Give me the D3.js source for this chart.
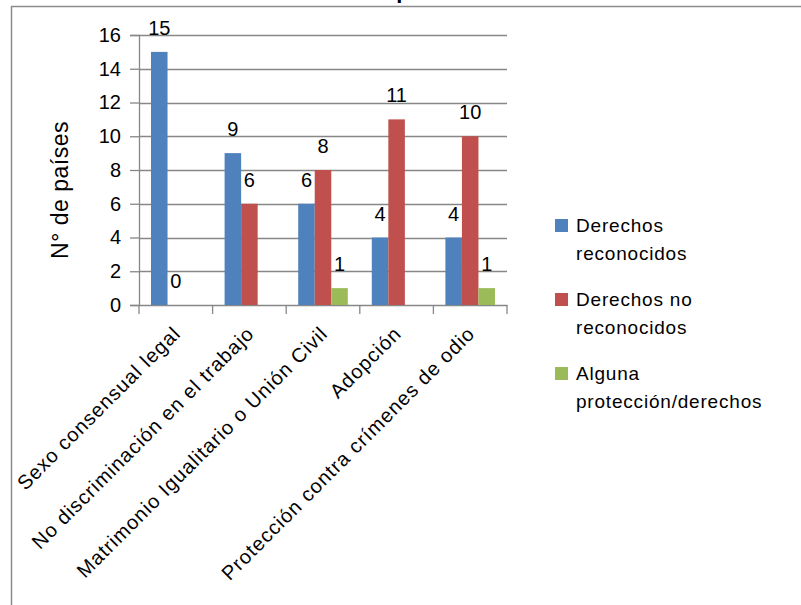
<!DOCTYPE html>
<html>
<head>
<meta charset="utf-8">
<script src="https://cdn.jsdelivr.net/npm/d3@7"></script>
<style>
  body { margin: 0; background: #fff; }
  svg { display: block; }
  text { font-family: "Liberation Sans", Arial, sans-serif; fill: #000; }
</style>
</head>
<body>
<div id="chart"></div>
<script>
var categories = ["Sexo consensual legal", "No discriminación en el trabajo", "Matrimonio Igualitario o Unión Civil", "Adopción", "Protección contra crímenes de odio"];
var seriesNames = ["Derechos reconocidos", "Derechos no reconocidos", "Alguna protección/derechos"];
var legendLines = [["Derechos", "reconocidos"], ["Derechos no", "reconocidos"], ["Alguna", "protección/derechos"]];
var reconocidos = [15, 9, 6, 4, 4];
var noReconocidos = [0, 6, 8, 11, 10];
var alguna = [null, null, 1, null, 1];
var yTicks = [0, 2, 4, 6, 8, 10, 12, 14, 16];
var colors = ["#4f81bd", "#c0504d", "#9bbb59"];

function init() {
    var width = 801, height = 605;
    var plot = { left: 139, right: 507, top: 35, bottom: 305 };

    var svg = d3.select("#chart").append("svg")
        .attr("width", width)
        .attr("height", height);

    // frame of the chart area (cut on right and bottom)
    svg.append("path")
        .attr("d", "M11.5," + height + "V6.5H" + width)
        .attr("fill", "none")
        .attr("stroke", "#8c8c8c")
        .attr("stroke-width", 1.5);

    // title, mostly above the visible area
    svg.append("text")
        .attr("x", 403)
        .attr("y", -2)
        .attr("text-anchor", "middle")
        .style("font-size", "22px")
        .style("font-weight", "bold")
        .text("p");

    var series = [reconocidos, noReconocidos, alguna];
    var data = categories.map(function (c, i) {
        return { cat: c, values: series.map(function (s, j) { return { key: j, value: s[i] }; }) };
    });

    var y = d3.scaleLinear().domain([0, 16]).range([plot.bottom, plot.top]);
    var x0 = d3.scaleBand().domain(categories).range([plot.left, plot.right]);
    var x1 = d3.scaleBand().domain([0, 1, 2]).range([12, x0.bandwidth() - 12]);

    // gridlines
    svg.append("g")
        .selectAll("line")
        .data(yTicks.filter(function (d) { return d > 0; }))
        .enter().append("line")
        .attr("x1", plot.left).attr("x2", plot.right)
        .attr("y1", function (d) { return Math.round(y(d)) + 0.5; })
        .attr("y2", function (d) { return Math.round(y(d)) + 0.5; })
        .attr("stroke", "#878787")
        .attr("stroke-width", 1.3);

    // y axis
    var yAxis = svg.append("g")
        .attr("transform", "translate(" + plot.left + ",0)")
        .call(d3.axisLeft(y).tickValues(yTicks).tickSize(9).tickPadding(9));
    yAxis.select(".domain").attr("stroke", "#878787").attr("stroke-width", 1.3);
    yAxis.selectAll(".tick line").attr("stroke", "#878787").attr("stroke-width", 1.3);
    yAxis.selectAll(".tick text").style("font-size", "20px").attr("fill", "#000");

    // x axis
    var xAxis = svg.append("g")
        .attr("transform", "translate(0," + plot.bottom + ")")
        .call(d3.axisBottom(x0).tickSize(0).tickFormat(""));
    xAxis.select(".domain").attr("stroke", "#878787").attr("stroke-width", 1.3);
    xAxis.selectAll(".tick").remove();
    var bounds = categories.map(function (c) { return x0(c); }).concat([plot.right]);
    xAxis.selectAll("line.tk")
        .data(bounds)
        .enter().append("line")
        .attr("class", "tk")
        .attr("x1", function (d) { return d; }).attr("x2", function (d) { return d; })
        .attr("y1", 0).attr("y2", 9)
        .attr("stroke", "#878787").attr("stroke-width", 1.3);

    // category labels rotated
    svg.append("g")
        .selectAll("text")
        .data(categories)
        .enter().append("text")
        .attr("transform", function (d) {
            return "translate(" + (x0(d) + x0.bandwidth() / 2 + 1) + "," + (plot.bottom + 25) + ") rotate(-45)";
        })
        .attr("text-anchor", "end")
        .attr("dy", "0.35em")
        .style("font-size", "20px")
        .style("letter-spacing", "1px")
        .attr("fill", "#111")
        .text(function (d) { return d; });

    // bars
    var groups = svg.append("g")
        .selectAll("g")
        .data(data)
        .enter().append("g")
        .attr("transform", function (d) { return "translate(" + x0(d.cat) + ",0)"; });

    groups.selectAll("rect")
        .data(function (d) { return d.values.filter(function (v) { return v.value !== null; }); })
        .enter().append("rect")
        .attr("x", function (d) { return x1(d.key); })
        .attr("width", x1.bandwidth())
        .attr("y", function (d) { return y(d.value); })
        .attr("height", function (d) { return y(0) - y(d.value); })
        .attr("fill", function (d) { return colors[d.key]; });

    groups.selectAll("text")
        .data(function (d) { return d.values.filter(function (v) { return v.value !== null; }); })
        .enter().append("text")
        .attr("x", function (d) { return x1(d.key) + x1.bandwidth() / 2; })
        .attr("y", function (d) { return y(d.value) - 17; })
        .attr("text-anchor", "middle")
        .style("font-size", "20px")
        .text(function (d) { return d.value; });

    // y axis title
    svg.append("text")
        .attr("transform", "translate(68,190) rotate(-90)")
        .attr("text-anchor", "middle")
        .style("font-size", "23px")
        .style("letter-spacing", "0.5px")
        .text("N° de países");

    // legend
    var legend = svg.append("g")
        .selectAll("g")
        .data(seriesNames)
        .enter().append("g")
        .attr("transform", function (d, i) { return "translate(555," + (232 + i * 74) + ")"; });

    legend.append("rect")
        .attr("x", 0).attr("y", -13)
        .attr("width", 13).attr("height", 13)
        .attr("fill", function (d, i) { return colors[i]; });

    legend.append("text")
        .attr("x", 21)
        .style("font-size", "19px")
        .style("letter-spacing", "0.8px")
        .attr("fill", "#111")
        .selectAll("tspan")
        .data(function (d, i) { return legendLines[i]; })
        .enter().append("tspan")
        .attr("x", 21)
        .attr("dy", function (d, i) { return i === 0 ? 0 : 28; })
        .text(function (d) { return d; });
}

window.onload = init;
</script>
</body>
</html>
